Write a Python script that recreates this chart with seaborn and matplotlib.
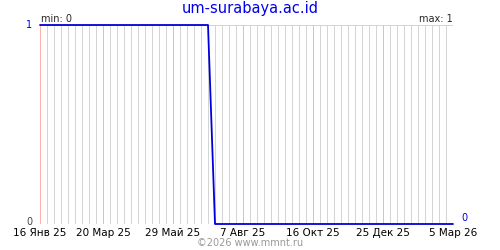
import matplotlib
matplotlib.use("Agg")
import matplotlib.pyplot as plt
import pandas as pd
import seaborn as sns

# ---- data ----
start_date = "2025-01-16"
week_values = [1, 1, 1, 1, 1, 1, 1, 1, 1, 1,
               1, 1, 1, 1, 1, 1, 1, 1, 1, 1,
               1, 1, 1, 1, 1, 0, 0, 0, 0, 0,
               0, 0, 0, 0, 0, 0, 0, 0, 0, 0,
               0, 0, 0, 0, 0, 0, 0, 0, 0, 0,
               0, 0, 0, 0, 0, 0, 0, 0, 0, 0]
tick_dates = ["2025-01-16", "2025-03-20", "2025-05-29", "2025-08-07",
              "2025-10-16", "2025-12-25", "2026-03-05"]
tick_labels = ["16 Янв 25", "20 Мар 25", "29 Май 25", "7 Авг 25",
               "16 Окт 25", "25 Дек 25", "5 Мар 26"]
title = "um-surabaya.ac.id"
min_text = "min: 0"
max_text = "max: 1"
footer = "©2026 www.mmnt.ru"

dates = pd.date_range(start_date, periods=len(week_values), freq="7D")
df = pd.DataFrame({"date": dates, "value": week_values})

sns.set_style("white")
plt.rcParams["font.family"] = ["DejaVu Sans"]

fig = plt.figure(figsize=(5, 2.5), dpi=100)
ax = fig.add_axes([40 / 500, 1 - 224 / 250, 413 / 500, 199 / 250])

PX = 0.72  # one pixel in points
xmin = pd.Timestamp(tick_dates[0])
xmax = pd.Timestamp(tick_dates[-1])
major = set(pd.Timestamp(d) for d in tick_dates)
for d in pd.date_range(xmin, xmax, freq="7D"):
    if d in major:
        continue
    ax.axvline(d, color="#d4d4d4", lw=PX, zorder=0, snap=True)
for d in sorted(major):
    ax.axvline(d, color="#ffb0b0", lw=PX, zorder=0.5, snap=True)
ax.axhline(1, color="#d4d4d4", lw=PX, zorder=0, snap=True)
ax.axhline(0, color="#d4d4d4", lw=PX, zorder=0, snap=True)

sns.lineplot(data=df, x="date", y="value", ax=ax, color="#0000dd",
             lw=1.3, clip_on=False, zorder=3)

ax.set_xlim(xmin, xmax)
ax.set_ylim(0, 1)
for s in ax.spines.values():
    s.set_visible(False)
ax.set_xlabel("")
ax.set_ylabel("")
ax.set_yticks([])
ax.set_xticks(sorted(major))
ax.set_xticklabels(tick_labels, fontsize=7.5, color="black")
ax.tick_params(axis="x", length=0, pad=3)

ax.text(-0.018, 1, "1", transform=ax.transAxes, ha="right", va="center",
        color="#0000dd", fontsize=7)
ax.text(-0.018, 0.01, "0", transform=ax.transAxes, ha="right", va="center",
        color="#444444", fontsize=7)
ax.text(1.02, 0.03, "0", transform=ax.transAxes, ha="left", va="center",
        color="#0000dd", fontsize=7)

fig.text(41 / 500, 1 - 19 / 250, min_text, ha="left", va="center", fontsize=7)
fig.text(453 / 500, 1 - 19 / 250, max_text, ha="right", va="center", fontsize=7)
fig.text(0.5, 1 - 9 / 250, title, ha="center", va="center", fontsize=10.5,
         color="#0000ee")
fig.text(0.5, 1 - 243 / 250, footer, ha="center", va="center", fontsize=7,
         color="#999999")

fig.savefig("out.png", dpi=100)
